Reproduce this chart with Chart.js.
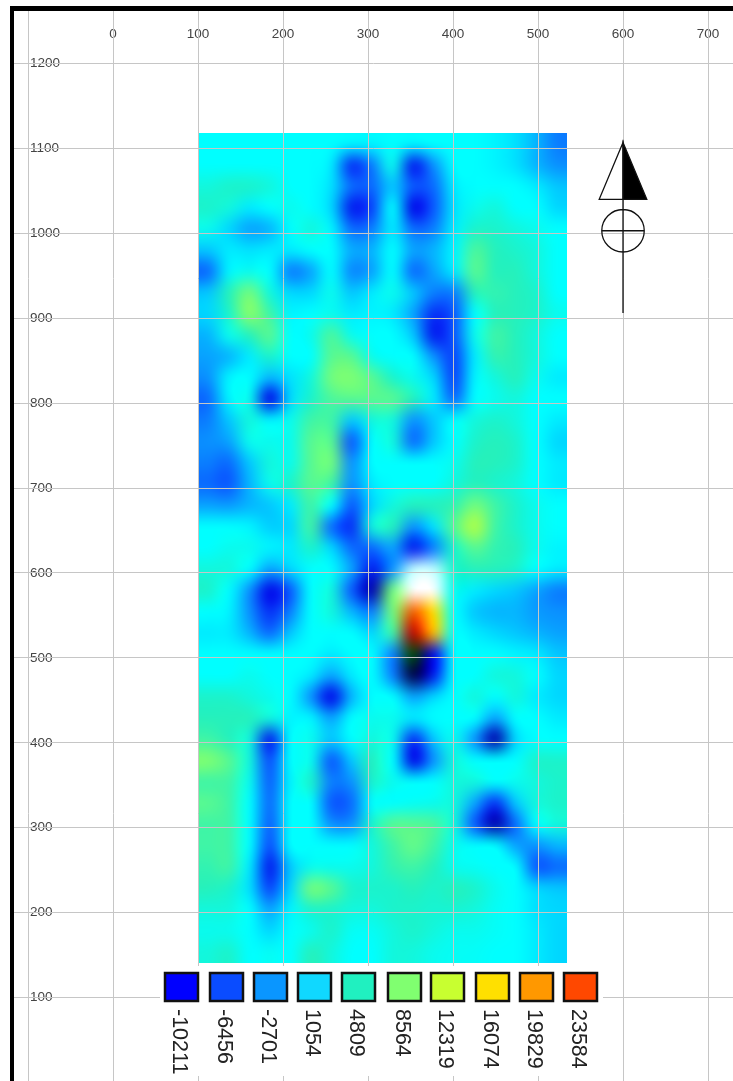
<!DOCTYPE html>
<html>
<head>
<meta charset="utf-8">
<title>Magnetic survey map</title>
<script src="https://cdn.jsdelivr.net/npm/chart.js@4"></script>
<style>
    html, body { margin: 0; padding: 0; background: #fff; overflow: hidden; }
    #frame { position: absolute; left: 10px; top: 6px; width: 723px; height: 1075px;
             border-left: 4px solid #000; border-top: 5px solid #000; box-sizing: border-box; }
    #map { position: absolute; left: 0; top: 0; }
</style>
</head>
<body>
<div id="frame"></div>
<canvas id="map" width="733" height="1081"></canvas>
<script>
// Legend classes
const legendValues = [-10211, -6456, -2701, 1054, 4809, 8564, 12319, 16074, 19829, 23584];
const legendColors = ['#0000ff', '#0a4cff', '#0a96ff', '#10d8ff', '#20f0c0', '#80ff70', '#c8ff30', '#ffe000', '#ff9800', '#ff4800'];

// Colour ramp of the map, in thousands
// 38, 40 and 50 are the pale, white and dark green shading on either side of the peak
const rampValues = [-14, -12, -10.2, -6.5, -2.7, 1.05, 3, 4.8, 8.56, 12.3, 16.07, 19.8, 23.58, 26, 38, 40, 50];
const rampColors = ['#000000', '#000060', '#0000e8', '#0a4cff', '#0a96ff', '#00d8ff', '#00ffff', '#20f0c0', '#80ff70', '#c8ff30', '#ffe000', '#ff9800', '#f03000', '#c00000', '#c0ffff', '#ffffff', '#004800'];

// Extent of the surveyed block
const gridXRange = [100, 534];
const gridYRange = [1118, 141];

// In thousands, north to south and west to east
const heatRows = [
    [3,3,3,3,3,3,3,2.5,2.5,3,2.5,3,3,3,2.5,1.5,-1,-4],
    [3,3,3,3,3,3,2,-8,-4,3.5,-9,-3,3,3,2.5,1.5,-1,-3],
    [4,4.5,4.5,4,3,3,1.5,-5,-5,0,-6,-5,2,3,3,3,2,0],
    [4.5,4,2,3,3.5,3,1,-9,-7,3,-10,-6,1.5,3.5,4,3,3,1],
    [3.5,1,-2,-1,3,4,2.5,-5,-4,2,-5,-4,2,4.5,4.5,4,3.5,3],
    [0,2,1.5,2,2,3,3,-1.5,-1,3,-2,-1,2.5,6.5,5,4.5,4,3],
    [-5,2.5,3.5,3,-4,-2,3,-3.5,-2,3,-5,-2,2,7,5,5,4,3],
    [0,5,8,4,1,1,3.5,0,2,3.5,0,-4,-4,5,5.5,5,4.5,3],
    [1,4.5,9,6,2.5,3,3.5,2,2.5,2,-2,-8,-6,3,5,5,4.5,3.5],
    [-1,3.5,5,7,3,3.5,6.5,3.5,3,3,0,-9,-6,3.5,6,5,4,3],
    [-2,-1,2,4.5,3,3,7,7,3.5,3,3,-3,-7,2,5.5,5,4,3],
    [-3,2.5,3,-1,1.5,4,8,8.5,7,4.5,3.5,1,-7,2.5,4,5,3.5,2],
    [-5,2.5,3.5,-10,1,4.5,6.5,7,7,7,5,2,-5,3,3.5,4,3,3],
    [-4,0,4,2.5,3.5,6,6,0,4,4,-3,0,3,4,4.5,4,3,2],
    [-3,-2,3.5,3.5,3.5,7,7,-6,3,4,-5,0,3,4.5,5,4.5,3,1],
    [-4,-5,0,4,3.5,7,8,-3,3,3,3,3,3.5,5,5,4.5,3,2],
    [-5,-6,-1,3.5,4.5,7,6,-3,2,3,3,3,4,5,4.5,4,3,2],
    [-2,-2.5,-1,0,2,6,3,-6,1,4,5,5,5.5,8,6,4.5,3.5,3],
    [3,3,2.5,0.5,1,6,-5,-8,4,5,-3,1.5,7,11,6,4.5,3.5,3],
    [3,3.5,3.5,2.5,2,4.5,1,-5,-5,-2,-9,-4,4.5,7,5.5,5,3.5,2.5],
    [4,4,3,-2,1,3,3,-2,-9,-3,38,38,4.5,5,5,4.5,3,2],
    [4.5,3,-3,-10,-6,3,4,-6,-11,8,40,40,3.5,2,1,0,-2,-4],
    [3,2.5,-3,-8,-4,3,4,-1,-4,8,22,16,3,0,-1,-1,-2.5,-3],
    [2,2,-1,-5,0,3,3,3,1,6,26,18,3,2,1,0,-1,-2],
    [3,3,3,3,3,3,2,3,3,-4,50,-10,3,3,3,2.5,2,0],
    [3,3,3.5,3,3,2,-2,2,3,-4,-12.5,-9,3,3,4,4,3,1],
    [4.5,4.5,4,3.5,3,-3,-10,-1,3,3,-2,1,3,4,3,4,2,1],
    [5,5,5,4,2.5,2.5,-2,3,3.5,3.5,2,3,3,3,-2,3,3,2],
    [6,5,4,-9,3,3.5,0,3,4,3.5,-8,0,3.5,-3,-11,1,3,3],
    [8.5,7,4,-6.5,3,3.5,-6,0,5,3,-10,-3,4,3,3,3,4.5,4.5],
    [6,6,3.5,-5.5,2.5,4.5,-4,-3,4.5,3.5,3,3,4,4,3,3.5,4,4.5],
    [7,6,3,-5,3,3,-6,-5,3,3,3.3,3.5,4,-2,-8,0,4,4.5],
    [6,6,3,-5.5,3,3,-3,-3,4.5,7,7,6.5,4,-6,-11,-5,3,4],
    [6,6,3,-6.5,3,3,3,3,4,6,7.5,6,3.5,3,3,-2,-3,-1],
    [5.5,6,2,-9,0,3.5,3.5,3.5,4,5.5,6,5,3.5,3.3,3,3,-6,-5],
    [5,4.5,1.5,-7,1,8,7,4.5,4.5,4.5,5,4.5,5,4.5,3.5,3,1,0],
    [4,4,3,-2,2.5,4.5,4.5,4,4,4.5,4.5,4.3,4.3,4,3.3,3,1.5,1],
    [3.5,3.5,3,1,3,3.5,4.5,3.3,3.3,4,4.5,4,3.5,3.5,3.2,3,2,1],
    [4,4.5,3,3.3,3,5,4,3,3,4,4,3.5,3.3,3.2,3,3,2,1]
];

// North arrow, in map units
const arrowX = [572, 600, 628];
const arrowTipY = 1107;
const arrowBaseY = 1040;
const compassCentreY = 1003;
const compassRadius = 25;
const arrowTailY = 906;

// Legend layout, in canvas pixels
const swatchLefts = [165, 210, 254, 298, 342, 388, 431, 476, 520, 564];
const swatchSize = [33, 28];
const swatchTop = 973;
const legendBox = [160, 966, 443, 110];

function hexToRgb(hex) {
    return [1, 3, 5].map(function (i) { return parseInt(hex.substr(i, 2), 16); });
}

function colorFor(v) {
    if (v <= rampValues[0]) return hexToRgb(rampColors[0]);
    for (let i = 1; i < rampValues.length; i++) {
        if (v <= rampValues[i]) {
            const t = (v - rampValues[i - 1]) / (rampValues[i] - rampValues[i - 1]);
            const a = hexToRgb(rampColors[i - 1]);
            const b = hexToRgb(rampColors[i]);
            return a.map(function (c, k) { return Math.round(c + (b[k] - c) * t); });
        }
    }
    return hexToRgb(rampColors[rampColors.length - 1]);
}

// One image pixel per grid cell, the browser smooths it when it is scaled up
function buildHeatImage() {
    const rows = heatRows.length;
    const cols = heatRows[0].length;
    const off = document.createElement('canvas');
    off.width = cols;
    off.height = rows;
    const octx = off.getContext('2d');
    const img = octx.createImageData(cols, rows);
    heatRows.forEach(function (row, r) {
        row.forEach(function (v, c) {
            const rgb = colorFor(v);
            const p = (r * cols + c) * 4;
            img.data[p] = rgb[0];
            img.data[p + 1] = rgb[1];
            img.data[p + 2] = rgb[2];
            img.data[p + 3] = 255;
        });
    });
    octx.putImageData(img, 0, 0);
    return off;
}

const heatImage = buildHeatImage();

const heatmapPlugin = {
    id: 'heatmap',
    beforeDatasetsDraw(chart) {
        const { ctx, scales } = chart;
        const left = scales.x.getPixelForValue(gridXRange[0]);
        const right = scales.x.getPixelForValue(gridXRange[1]);
        const top = scales.y.getPixelForValue(gridYRange[0]);
        const bottom = scales.y.getPixelForValue(gridYRange[1]);
        ctx.save();
        ctx.imageSmoothingEnabled = true;
        ctx.imageSmoothingQuality = 'high';
        ctx.drawImage(heatImage, left, top, right - left, bottom - top);
        ctx.restore();
    }
};

const overlayPlugin = {
    id: 'overlay',
    afterDraw(chart) {
        drawNorthArrow(chart);
        drawLegend(chart.ctx);
    }
};

function drawNorthArrow(chart) {
    const { ctx, scales } = chart;
    const xl = scales.x.getPixelForValue(arrowX[0]);
    const xc = scales.x.getPixelForValue(arrowX[1]);
    const xr = scales.x.getPixelForValue(arrowX[2]);
    const tip = scales.y.getPixelForValue(arrowTipY);
    const base = scales.y.getPixelForValue(arrowBaseY);
    const centre = scales.y.getPixelForValue(compassCentreY);
    const tail = scales.y.getPixelForValue(arrowTailY);
    const radius = scales.x.getPixelForValue(arrowX[1] + compassRadius) - xc;

    ctx.save();
    ctx.strokeStyle = '#111';
    ctx.lineWidth = 1.3;

    ctx.fillStyle = '#fff';
    ctx.beginPath();
    ctx.moveTo(xc, tip);
    ctx.lineTo(xl, base);
    ctx.lineTo(xc, base);
    ctx.closePath();
    ctx.fill();
    ctx.stroke();

    ctx.fillStyle = '#000';
    ctx.beginPath();
    ctx.moveTo(xc, tip);
    ctx.lineTo(xr, base);
    ctx.lineTo(xc, base);
    ctx.closePath();
    ctx.fill();
    ctx.stroke();

    ctx.beginPath();
    ctx.arc(xc, centre, radius, 0, Math.PI * 2);
    ctx.moveTo(xc - radius, centre);
    ctx.lineTo(xc + radius, centre);
    ctx.moveTo(xc, base);
    ctx.lineTo(xc, tail);
    ctx.stroke();
    ctx.restore();
}

function drawLegend(ctx) {
    ctx.save();
    ctx.fillStyle = '#fff';
    ctx.fillRect(legendBox[0], legendBox[1], legendBox[2], legendBox[3]);

    legendValues.forEach(function (value, i) {
        const left = swatchLefts[i];
        ctx.fillStyle = legendColors[i];
        ctx.strokeStyle = '#111';
        ctx.lineWidth = 2.5;
        ctx.fillRect(left, swatchTop, swatchSize[0], swatchSize[1]);
        ctx.strokeRect(left, swatchTop, swatchSize[0], swatchSize[1]);

        ctx.save();
        ctx.translate(left + swatchSize[0] / 2 - 3, 1009);
        ctx.rotate(Math.PI / 2);
        ctx.fillStyle = '#222';
        ctx.font = '21.5px "Liberation Sans"';
        ctx.textAlign = 'left';
        ctx.textBaseline = 'middle';
        ctx.fillText(String(value), 0, 0);
        ctx.restore();
    });
    ctx.restore();
}

// Grid nodes go into the chart as an invisible dataset so the scales know them
const cellPoints = [];
heatRows.forEach(function (row, r) {
    row.forEach(function (v, c) {
        cellPoints.push({
            x: gridXRange[0] + (c + 0.5) * (gridXRange[1] - gridXRange[0]) / row.length,
            y: gridYRange[0] + (r + 0.5) * (gridYRange[1] - gridYRange[0]) / heatRows.length,
            v: v
        });
    });
});

const gridColor = '#c6c6c6';

// Axes sit inside the plot, so they must not take any room from it
function collapseAxis(axis) {
    axis.width = axis.isHorizontal() ? axis.width : 0;
    axis.height = axis.isHorizontal() ? 0 : axis.height;
    axis.paddingLeft = axis.paddingRight = axis.paddingTop = axis.paddingBottom = 0;
}

new Chart(document.getElementById('map'), {
    type: 'scatter',
    data: {
        datasets: [{ label: 'Anomaly', data: cellPoints, pointRadius: 0, pointHoverRadius: 0 }]
    },
    options: {
        responsive: false,
        animation: false,
        layout: { padding: { left: 14, top: 11, right: 0, bottom: 0 } },
        plugins: { legend: { display: false }, tooltip: { enabled: false } },
        scales: {
            x: {
                type: 'linear',
                position: 'top',
                min: -116.5,
                max: 729.4,
                afterFit: collapseAxis,
                border: { display: false },
                grid: { color: gridColor, drawTicks: false, z: 1 },
                ticks: {
                    stepSize: 100,
                    includeBounds: false,
                    autoSkip: false,
                    maxRotation: 0,
                    mirror: true,
                    padding: 15,
                    color: '#444',
                    font: { family: '"Liberation Sans"', size: 13.5 },
                    callback: function (v) { return v < 0 ? '' : String(v); }
                }
            },
            y: {
                type: 'linear',
                position: 'left',
                min: 1.7,
                max: 1261.8,
                afterFit: collapseAxis,
                border: { display: false },
                grid: { color: gridColor, drawTicks: false, z: 1 },
                ticks: {
                    stepSize: 100,
                    includeBounds: false,
                    autoSkip: false,
                    mirror: true,
                    padding: 16,
                    color: '#444',
                    font: { family: '"Liberation Sans"', size: 13.5 },
                    callback: function (v) { return String(v); }
                }
            }
        }
    },
    plugins: [heatmapPlugin, overlayPlugin]
});
</script>
</body>
</html>
